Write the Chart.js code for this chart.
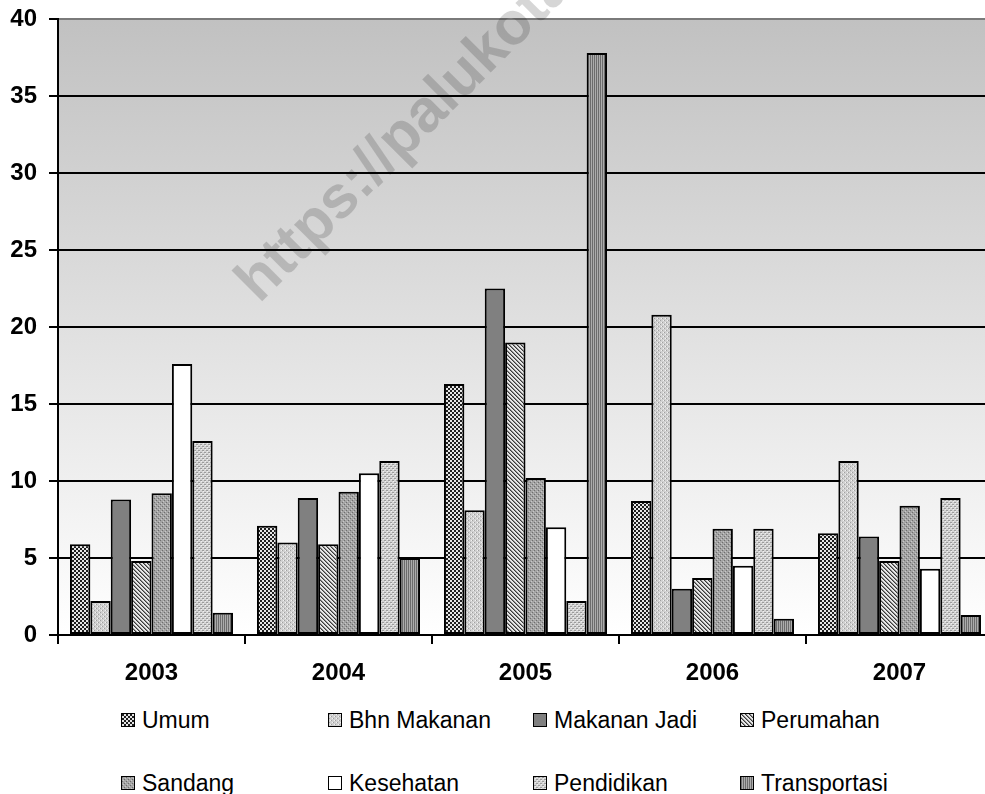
<!DOCTYPE html>
<html>
<head>
<meta charset="utf-8">
<script src="https://cdn.jsdelivr.net/npm/chart.js@4.4.1/dist/chart.umd.min.js"></script>
<style>
html,body{margin:0;padding:0;overflow:hidden;background:#fff;}
#wrap{position:relative;width:985px;height:794px;overflow:hidden;}
#cv{position:absolute;left:0;top:0;}
.lg{position:absolute;font-family:"Liberation Sans",Arial,sans-serif;font-size:23px;color:#000;white-space:nowrap;line-height:26px;}
.lg .sw{position:absolute;left:0;top:6px;width:12px;height:12px;border:1.5px solid #000;background-size:auto;}
.lg .tx{position:absolute;left:21px;top:0;}
</style>
</head>
<body>
<div id="wrap">
<canvas id="cv" width="1000" height="700"></canvas>
</div>
<script>
// ---- data ----
const years = ['2003', '2004', '2005', '2006', '2007'];
const seriesNames = ['Umum', 'Bhn Makanan', 'Makanan Jadi', 'Perumahan', 'Sandang', 'Kesehatan', 'Pendidikan', 'Transportasi'];
const umum = [5.9, 7.1, 16.3, 8.7, 6.6];
const bhnMakanan = [2.2, 6.0, 8.1, 20.8, 11.3];
const makananJadi = [8.8, 8.9, 22.5, 3.0, 6.4];
const perumahan = [4.8, 5.9, 19.0, 3.7, 4.8];
const sandang = [9.2, 9.3, 10.2, 6.9, 8.4];
const kesehatan = [17.6, 10.5, 7.0, 4.5, 4.3];
const pendidikan = [12.6, 11.3, 2.2, 6.9, 8.9];
const transportasi = [1.45, 5.0, 37.8, 1.05, 1.3];
const seriesValues = [umum, bhnMakanan, makananJadi, perumahan, sandang, kesehatan, pendidikan, transportasi];
const yMin = 0, yMax = 40, yStep = 5;
const watermark = 'https://palukota.bps.go.id';

// ---- patterns ----
function tile(w, h, fn) {
  const c = document.createElement('canvas');
  c.width = w; c.height = h;
  const x = c.getContext('2d');
  fn(x);
  return c;
}
function px(x, col, i, j) { x.fillStyle = col; x.fillRect(i, j, 1, 1); }
const tiles = [
  tile(4, 4, x => { x.fillStyle = '#e6e6e6'; x.fillRect(0,0,4,4); x.fillStyle = '#1e1e1e'; x.fillRect(0,0,2,2); x.fillRect(2,2,2,2); }),
  tile(4, 4, x => { x.fillStyle = '#d0d0d0'; x.fillRect(0,0,4,4); px(x,'#a0a0a0',0,0); px(x,'#a0a0a0',2,2); px(x,'#f2f2f2',1,2); px(x,'#f2f2f2',3,0); }),
  tile(2, 2, x => { x.fillStyle = '#808080'; x.fillRect(0,0,2,2); }),
  tile(4, 4, x => { x.fillStyle = '#e8e8e8'; x.fillRect(0,0,4,4); for (let i=0;i<4;i++){ px(x,'#3a3a3a',i,i); px(x,'#8e8e8e',(i+1)%4,i);} }),
  tile(4, 4, x => { x.fillStyle = '#a4a4a4'; x.fillRect(0,0,4,4); px(x,'#6e6e6e',0,0); px(x,'#6e6e6e',2,2); px(x,'#c8c8c8',1,3); px(x,'#c8c8c8',3,1); }),
  tile(2, 2, x => { x.fillStyle = '#ffffff'; x.fillRect(0,0,2,2); }),
  tile(4, 4, x => { x.fillStyle = '#d4d4d4'; x.fillRect(0,0,4,4); px(x,'#9c9c9c',0,0); px(x,'#9c9c9c',1,0); px(x,'#9c9c9c',2,2); px(x,'#9c9c9c',3,2); px(x,'#f0f0f0',1,1); px(x,'#f0f0f0',3,3); }),
  tile(2, 1, x => { px(x,'#6c6c6c',0,0); px(x,'#acacac',1,0); })
];
const ctx = document.getElementById('cv').getContext('2d');
const patterns = tiles.map(t => ctx.createPattern(t, 'repeat'));

// ---- legend (HTML) ----
const legendPos = [[121,707],[328,707],[533,707],[740,707],[121,770],[328,770],[533,770],[740,770]];
const wrap = document.getElementById('wrap');
seriesNames.forEach((n, i) => {
  const d = document.createElement('div');
  d.className = 'lg';
  d.style.left = legendPos[i][0] + 'px';
  d.style.top = legendPos[i][1] + 'px';
  const sw = document.createElement('span');
  sw.className = 'sw';
  sw.style.backgroundImage = 'url(' + tiles[i].toDataURL() + ')';
  const tx = document.createElement('span');
  tx.className = 'tx';
  tx.textContent = n;
  d.appendChild(sw); d.appendChild(tx);
  wrap.appendChild(d);
});

// ---- plugins ----
const bgPlugin = {
  id: 'bg',
  beforeDraw(chart) {
    const a = chart.chartArea, c = chart.ctx;
    const g = c.createLinearGradient(0, a.top, 0, a.bottom);
    g.addColorStop(0, '#c1c1c1');
    g.addColorStop(1, '#ffffff');
    c.save();
    c.fillStyle = g;
    c.fillRect(a.left, a.top, a.right - a.left, a.bottom - a.top);
    c.restore();
  }
};
const wmPlugin = {
  id: 'wm',
  afterDraw(chart) {
    const c = chart.ctx;
    c.save();
    c.font = 'bold 60px "Liberation Sans", Arial, sans-serif';
    c.fillStyle = 'rgba(0,0,0,0.16)';
    c.textBaseline = 'middle';
    c.translate(383, 157);
    c.rotate(-Math.PI / 4);
    const off = c.measureText('https:/').width + c.measureText('/').width / 2;
    c.fillText(watermark, -off, 0);
    c.restore();
  }
};

const font = { family: '"Liberation Sans", Arial, sans-serif', size: 24, weight: 'bold' };

new Chart(ctx, {
  type: 'bar',
  data: {
    labels: years,
    datasets: seriesNames.map((n, i) => ({
      label: n,
      data: seriesValues[i],
      backgroundColor: patterns[i],
      borderColor: '#000',
      borderWidth: 2,
      borderSkipped: false,
      categoryPercentage: 0.872,
      barPercentage: 1.0
    }))
  },
  options: {
    responsive: false,
    animation: false,
    devicePixelRatio: 1,
    layout: { padding: { top: 19, right: 7, left: 0, bottom: 0 } },
    plugins: { legend: { display: false }, tooltip: { enabled: false } },
    scales: {
      x: {
        grid: { drawOnChartArea: false, offset: true, tickLength: 9, color: '#000', lineWidth: 2 },
        border: { color: '#000', width: 2 },
        ticks: { color: '#000', font: font, padding: 15 },
        afterFit(s) { s.height = 65; s.paddingLeft = 0; s.paddingRight = 0; }
      },
      y: {
        min: yMin, max: yMax,
        grid: {
          color: c => (c.tick && c.tick.value === yMax) ? '#7a7a7a' : '#000',
          tickColor: '#000',
          lineWidth: 2, tickLength: 9
        },
        border: { color: '#000', width: 2 },
        ticks: { stepSize: yStep, color: '#000', font: font, padding: 12 },
        afterFit(s) { s.width = 58; s.paddingTop = 10; s.paddingBottom = 0; }
      }
    }
  },
  plugins: [bgPlugin, wmPlugin]
});
</script>
</body>
</html>
